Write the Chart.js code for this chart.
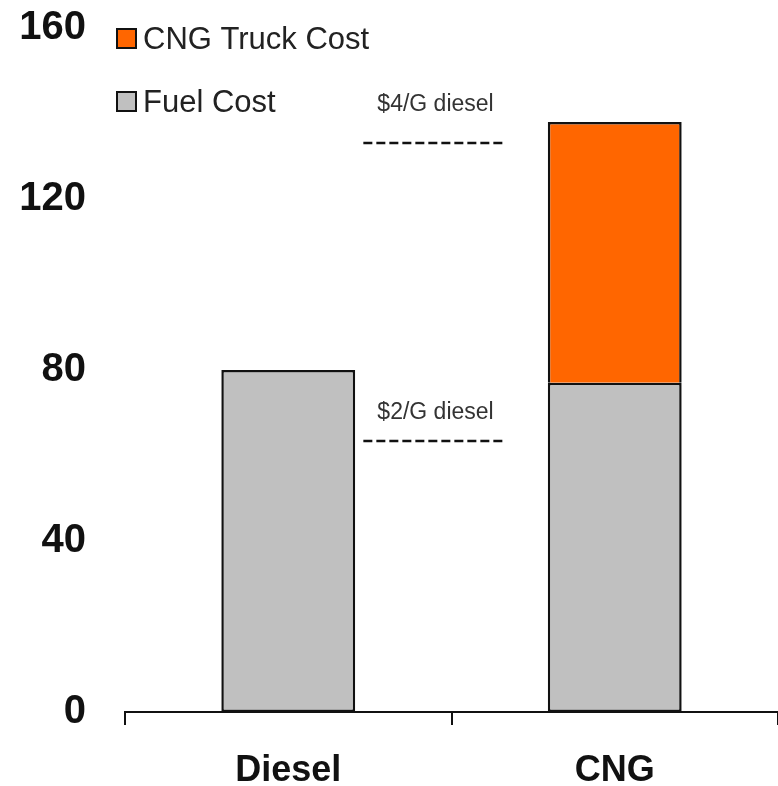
<!DOCTYPE html>
<html>
<head>
<meta charset="utf-8">
<script src="https://cdn.jsdelivr.net/npm/chart.js@4"></script>
<style>
  html, body { margin: 0; padding: 0; background: #fff; }
  #wrap { width: 778px; height: 786px; }
</style>
</head>
<body>
<div id="wrap"><canvas id="costos"></canvas></div>
<script>
// datos
const categorias = ["Diesel", "CNG"];
const costo_combustible = [80, 77];
const costo_camion = [0, 61];
const ticks_y = [0, 40, 80, 120, 160];
// lineas de referencia (precio del diesel)
const ref_etiquetas = ["$4/G diesel", "$2/G diesel"];
const ref_valores = [133, 63.5];
const ref_valores_texto = [142, 70];
const ref_desde = 0.23; // posicion en el eje de categorias
const ref_hasta = 0.66;

const fuente = "'Liberation Sans', Arial, sans-serif";

const plugin_referencias = {
  id: "referencias",
  afterDatasetsDraw: (chart) => {
    const ctx = chart.ctx;
    const x = chart.scales.x;
    const y = chart.scales.y;
    const x1 = x.getPixelForValue(ref_desde);
    const x2 = x.getPixelForValue(ref_hasta);
    ctx.save();
    ref_valores.forEach((v, i) => {
      const py = Math.round(y.getPixelForValue(v));
      ctx.beginPath();
      ctx.setLineDash([9, 4]);
      ctx.lineWidth = 2.5;
      ctx.strokeStyle = "#111";
      ctx.moveTo(x1, py);
      ctx.lineTo(x2, py);
      ctx.stroke();
      ctx.setLineDash([]);
      ctx.fillStyle = "#333";
      ctx.font = "23px " + fuente;
      ctx.textAlign = "center";
      ctx.textBaseline = "middle";
      ctx.fillText(ref_etiquetas[i], (x1 + x2) / 2 + 2, y.getPixelForValue(ref_valores_texto[i]));
    });
    ctx.restore();
  },
  afterDraw: (chart) => {
    // leyenda propia, en orden inverso al apilado
    const ctx = chart.ctx;
    const items = chart.data.datasets.slice().reverse();
    ctx.save();
    items.forEach((ds, i) => {
      const top = 29 + i * 63;
      ctx.fillStyle = ds.backgroundColor;
      ctx.fillRect(117, top, 19, 19);
      ctx.lineWidth = 2;
      ctx.strokeStyle = "#111";
      ctx.strokeRect(117, top, 19, 19);
      ctx.fillStyle = "#222";
      ctx.font = "31px " + fuente;
      ctx.textAlign = "left";
      ctx.textBaseline = "middle";
      ctx.fillText(ds.label, 143, top + 11);
    });
    ctx.restore();
  },
};

const ctx = document.getElementById("costos").getContext("2d");
const chart_costos = new Chart(ctx, {
  type: "bar",
  data: {
    labels: categorias,
    datasets: [
      {
        label: "Fuel Cost",
        data: costo_combustible,
        backgroundColor: "#C0C0C0",
        borderColor: "#111",
        borderWidth: 2.5,
        borderSkipped: false,
      },
      {
        label: "CNG Truck Cost",
        data: costo_camion,
        backgroundColor: "#FF6600",
        borderColor: "#111",
        borderWidth: 2.5,
        borderSkipped: "bottom", // el borde inferior ya lo pone la barra gris
      },
    ],
  },
  options: {
    responsive: true,
    maintainAspectRatio: false,
    animation: false,
    layout: { padding: 0 },
    plugins: {
      legend: { display: false },
      tooltip: { enabled: false },
    },
    datasets: {
      bar: { categoryPercentage: 1, barPercentage: 0.41 },
    },
    scales: {
      x: {
        stacked: true,
        offset: true,
        grid: {
          offset: true,
          drawOnChartArea: false,
          drawTicks: true,
          tickLength: 13,
          color: "#111",
          lineWidth: 2,
        },
        border: { display: true, color: "#111", width: 2 },
        ticks: {
          color: "#111",
          padding: 24,
          font: { family: fuente, size: 36, weight: "bold" },
        },
        afterFit: (scale) => {
          scale.height = 74;
        },
      },
      y: {
        stacked: true,
        min: 0,
        max: 160,
        afterBuildTicks: (scale) => {
          scale.ticks = ticks_y.map((v) => ({ value: v }));
        },
        grid: { display: false, drawTicks: false },
        border: { display: false },
        ticks: {
          color: "#111",
          padding: 39,
          font: { family: fuente, size: 40, weight: "bold" },
        },
        afterFit: (scale) => {
          scale.width = 125;
          scale.paddingTop = 28;
          scale.paddingBottom = 0;
        },
      },
    },
  },
  plugins: [plugin_referencias],
});
</script>
</body>
</html>
